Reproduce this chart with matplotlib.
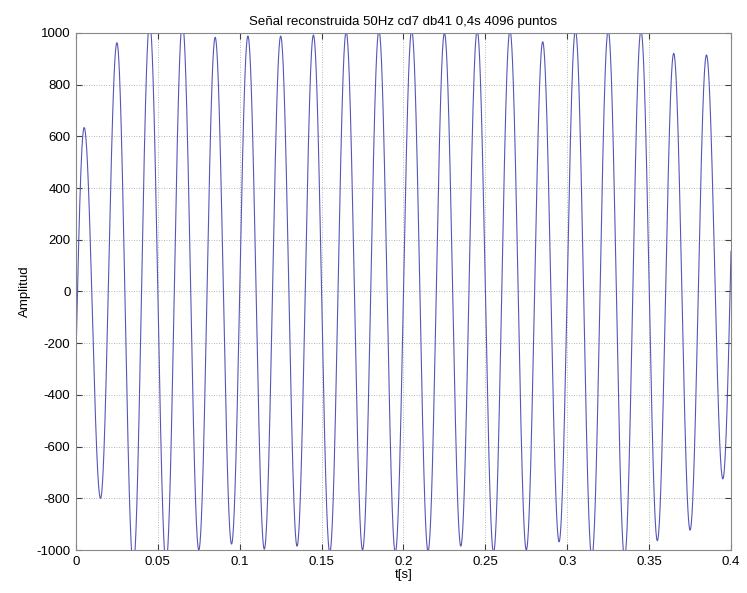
import numpy as np
import matplotlib
matplotlib.use("Agg")
import matplotlib.pyplot as plt

plt.rcParams['font.family'] = ['Liberation Sans', 'DejaVu Sans']
plt.rcParams['axes.unicode_minus'] = False

FS = 10240          # 4096 puntos en 0,4 s
N = 4096

# maximos de cada ciclo (t = 0.005 + 0.02k)
t_max = 0.005 + 0.02*np.arange(20)
picos = [634, 962, 1040, 1040, 983, 988, 988, 992, 1005, 1010,
         1010, 1000, 1010, 1010, 966, 1010, 1010, 1010, 921, 915]

# minimos de cada ciclo (t = 0.015 + 0.02k)
t_min = 0.015 + 0.02*np.arange(20)
valles = [-800, -1060, -1050, -1000, -977, -997, -985, -1010, -1000, -1010,
          -1005, -985, -1010, -1000, -968, -1030, -1030, -964, -923, -725]

# valor en los extremos del registro
v_ini = -253
v_fin = 155

#
# reconstruccion: medio coseno entre extremos consecutivos
#
t_ext = np.empty(40)
v_ext = np.empty(40)
t_ext[0::2] = t_max
t_ext[1::2] = t_min
v_ext[0::2] = picos
v_ext[1::2] = valles

# extremos virtuales fuera de la ventana para fijar los bordes
t_ext = np.concatenate(([-0.005], t_ext, [0.405]))
v_ext = np.concatenate(([2*v_ini - picos[0]], v_ext, [2*v_fin - valles[-1]]))

t = np.linspace(0, 0.4, N)
idx = np.clip(np.searchsorted(t_ext, t) - 1, 0, len(t_ext) - 2)
ta, tb = t_ext[idx], t_ext[idx + 1]
va, vb = v_ext[idx], v_ext[idx + 1]
s = (t - ta)/(tb - ta)
senal = va + (vb - va)*(1 - np.cos(np.pi*s))/2

#
# grafico
#
fig = plt.figure(figsize=(7.47, 5.93), dpi=100)
ax = fig.add_axes([0.1017, 0.0725, 0.8769, 0.8719])

ax.plot(t, senal, color='#5656b8', lw=0.8)

ax.set_xlim(0, 0.4)
ax.set_ylim(-1000, 1000)
ax.set_xticks(np.arange(0, 0.401, 0.05))
ax.set_xticklabels(['0', '0.05', '0.1', '0.15', '0.2', '0.25', '0.3', '0.35', '0.4'])
ax.set_yticks(np.arange(-1000, 1001, 200))

ax.grid(True, color='#a0a0a0', linestyle=(0, (1, 2)), lw=0.6)
ax.tick_params(direction='in', top=True, right=True, labelsize=9.5,
               length=4, width=0.8, color='#404040', pad=4)
for sp in ax.spines.values():
    sp.set_color('#888888')
    sp.set_linewidth(0.8)

ax.set_title("Señal reconstruida 50Hz cd7 db41 0,4s 4096 puntos", fontsize=9.5, pad=6)
ax.set_xlabel("t[s]", fontsize=9.5, labelpad=1)
ax.set_ylabel("Amplitud", fontsize=9.5, labelpad=4)

fig.savefig("out.png", dpi=100, facecolor='white')
